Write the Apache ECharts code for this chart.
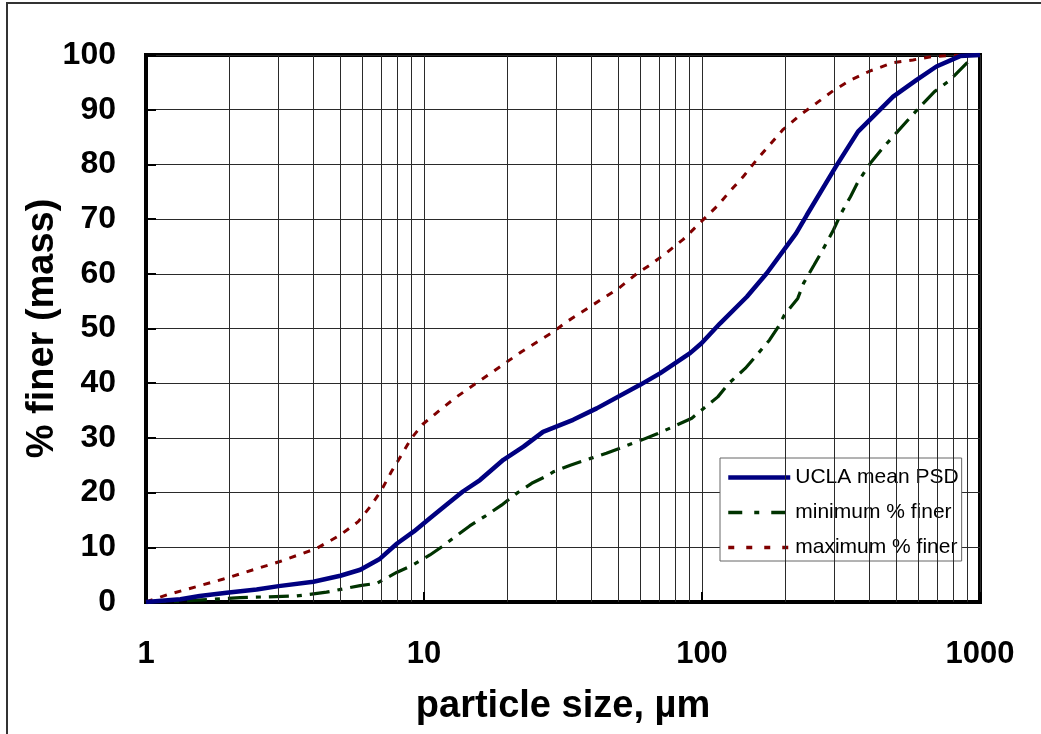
<!DOCTYPE html>
<html>
<head>
<meta charset="utf-8">
<script src="https://cdn.jsdelivr.net/npm/echarts@6.0.0/dist/echarts.min.js"></script>
<style>
  html, body { margin: 0; padding: 0; background: #fff; }
  #psdChart { width: 1041px; height: 734px; }
</style>
</head>
<body>
<div id="psdChart"></div>
<script>
// particle size (um) and % finer
var sizesMean = [1, 1.33, 1.56, 1.95, 2.5, 3, 4, 5, 5.9, 6.9, 8, 9.2, 10.5, 12.2, 13.8, 15.9, 19.3, 22.8, 26.8, 34.4, 41.8, 59.9, 70.6, 90.6, 99.6, 116, 145, 171, 218, 238, 303, 364, 487, 590, 697, 848, 1000];
var pctMean = [0, 0.5, 1.1, 1.7, 2.3, 2.9, 3.7, 4.8, 5.9, 7.8, 10.7, 12.9, 15.3, 18.0, 20.2, 22.3, 26.0, 28.4, 31.1, 33.3, 35.4, 39.7, 41.8, 45.5, 47.3, 50.9, 55.8, 60.1, 67.4, 70.7, 79.6, 86.0, 92.4, 95.4, 97.9, 99.8, 100];

var sizesMin = [1, 1.36, 2.18, 3.48, 4.46, 5.89, 6.75, 7.97, 9.15, 10.5, 11.6, 12.9, 14.6, 16.6, 19.0, 21.6, 24.4, 27.3, 29.2, 33.6, 40.0, 45.3, 59.9, 69.4, 80, 91.9, 114, 125, 143, 157.7, 175, 188, 198, 221, 232, 253, 272, 297, 317, 342, 364, 403, 447, 607, 686, 780, 908];
var pctMin = [0, 0.2, 0.8, 1.1, 1.8, 3.0, 3.4, 5.4, 6.8, 8.6, 10.1, 11.9, 13.9, 15.7, 17.7, 19.9, 21.7, 22.9, 23.8, 25.0, 26.3, 27.2, 29.5, 30.8, 32.2, 33.6, 37.5, 40.0, 42.7, 45.2, 47.9, 50.3, 52.5, 55.5, 58.3, 61.6, 64.4, 68.0, 71.1, 74.1, 76.8, 80.2, 83.0, 90.5, 93.3, 95.4, 98.8];

var sizesMax = [1, 1.19, 1.9, 3.03, 4.11, 4.98, 5.8, 6.4, 7.04, 7.63, 8.3, 9.0, 9.9, 11.6, 13.1, 17.0, 22.5, 28.8, 33, 43.1, 50, 58.2, 65, 74.8, 85.6, 100.6, 114, 125.6, 140.8, 157.7, 195, 225, 258, 297, 342, 403, 487, 574, 671, 780, 1000];
var pctMax = [0, 1.3, 4.2, 7.4, 9.8, 12.2, 14.7, 17.4, 20.5, 23.8, 26.9, 29.9, 32.5, 35.4, 37.5, 41.5, 45.8, 49.2, 51.4, 55.2, 57.3, 60.0, 61.6, 63.9, 66.3, 69.8, 72.5, 75.0, 77.8, 80.9, 86.3, 89.0, 91.2, 93.5, 95.4, 97.1, 98.6, 99.1, 99.7, 99.9, 100];

// minor log grid lines (2..9 per decade)
var minorGridSizes = [2, 3, 4, 5, 6, 7, 8, 9, 20, 30, 40, 50, 60, 70, 80, 90, 200, 300, 400, 500, 600, 700, 800, 900];

var seriesNames = ['UCLA mean PSD', 'minimum % finer', 'maximum % finer'];

function toPairs(xs, ys) {
    var out = [];
    for (var i = 0; i < xs.length; i++) {
        out.push([xs[i], ys[i]]);
    }
    return out;
}

var FONT = 'Liberation Sans, Arial, sans-serif';
var gridColor = '#2a2a2a';

var meanStyle = { color: '#000080', width: 4.5, type: 'solid' };
var minStyle = { color: '#003300', width: 3.2, type: [20, 8, 5, 8] };
var maxStyle = { color: '#800000', width: 3, type: [7, 8] };

var chart = echarts.init(document.getElementById('psdChart'), null, { renderer: 'canvas' });

var option = {
    backgroundColor: '#fff',
    animation: false,
    graphic: [{
        type: 'rect',
        shape: { x: 7, y: 3, width: 1100, height: 800 },
        style: { fill: 'none', stroke: '#333', lineWidth: 2 },
        silent: true,
        z: -10
    }],
    grid: {
        left: 146, right: 61, top: 55, bottom: 132,
        show: true,
        borderColor: '#000',
        borderWidth: 4,
        backgroundColor: 'transparent'
    },
    legend: {
        data: [
            { name: seriesNames[0], lineStyle: meanStyle },
            { name: seriesNames[1], lineStyle: { color: '#003300', width: 3.5, type: [14, 12, 5, 12] } },
            { name: seriesNames[2], lineStyle: { color: '#800000', width: 3.5, type: [6, 12] } }
        ],
        orient: 'vertical',
        left: 720,
        top: 458,
        padding: [9, 3, 3, 6],
        itemGap: 14,
        itemWidth: 62,
        itemHeight: 16,
        itemStyle: { opacity: 0 },
        backgroundColor: '#fff',
        borderColor: '#666',
        borderWidth: 1,
        textStyle: { fontFamily: FONT, fontSize: 21, color: '#000' }
    },
    xAxis: {
        type: 'log',
        logBase: 10,
        min: 1,
        max: 1000,
        name: 'particle size, µm',
        nameLocation: 'middle',
        nameGap: 86,
        nameTextStyle: { fontFamily: FONT, fontSize: 38, fontWeight: 'bold', color: '#000' },
        axisLine: { show: true, lineStyle: { color: '#000', width: 4 } },
        axisTick: { show: true, inside: true, length: 10, lineStyle: { color: '#000', width: 2 } },
        axisLabel: {
            fontFamily: FONT, fontSize: 31, fontWeight: 'bold', color: '#000', margin: 37,
            formatter: function (v) { return String(Math.round(v)); }
        },
        splitLine: { show: true, lineStyle: { color: gridColor, width: 1 } }
    },
    yAxis: {
        type: 'value',
        min: 0,
        max: 100,
        interval: 10,
        name: '% finer (mass)',
        nameLocation: 'middle',
        nameGap: 84,
        nameMoveOverlap: false,
        nameTextStyle: { fontFamily: FONT, fontSize: 38, fontWeight: 'bold', color: '#000' },
        axisLine: { show: true, lineStyle: { color: '#000', width: 4 } },
        axisTick: { show: true, inside: true, length: 10, lineStyle: { color: '#000', width: 2 } },
        axisLabel: { fontFamily: FONT, fontSize: 32, fontWeight: 'bold', color: '#000', margin: 30 },
        splitLine: { show: true, lineStyle: { color: gridColor, width: 1 } }
    },
    series: [
        {
            name: 'minorGrid',
            type: 'line',
            data: [],
            silent: true,
            z: 1,
            markLine: {
                silent: true,
                symbol: 'none',
                label: { show: false },
                lineStyle: { color: gridColor, width: 1, type: 'solid' },
                data: minorGridSizes.map(function (v) { return { xAxis: v }; })
            }
        },
        {
            name: seriesNames[2],
            type: 'line',
            data: toPairs(sizesMax, pctMax),
            symbol: 'none',
            z: 3,
            lineStyle: maxStyle,
            itemStyle: { color: '#800000' }
        },
        {
            name: seriesNames[1],
            type: 'line',
            data: toPairs(sizesMin, pctMin),
            symbol: 'none',
            z: 4,
            lineStyle: minStyle,
            itemStyle: { color: '#003300' }
        },
        {
            name: seriesNames[0],
            type: 'line',
            data: toPairs(sizesMean, pctMean),
            symbol: 'none',
            z: 5,
            lineStyle: meanStyle,
            itemStyle: { color: '#000080' }
        }
    ]
};

chart.setOption(option);
</script>
</body>
</html>
